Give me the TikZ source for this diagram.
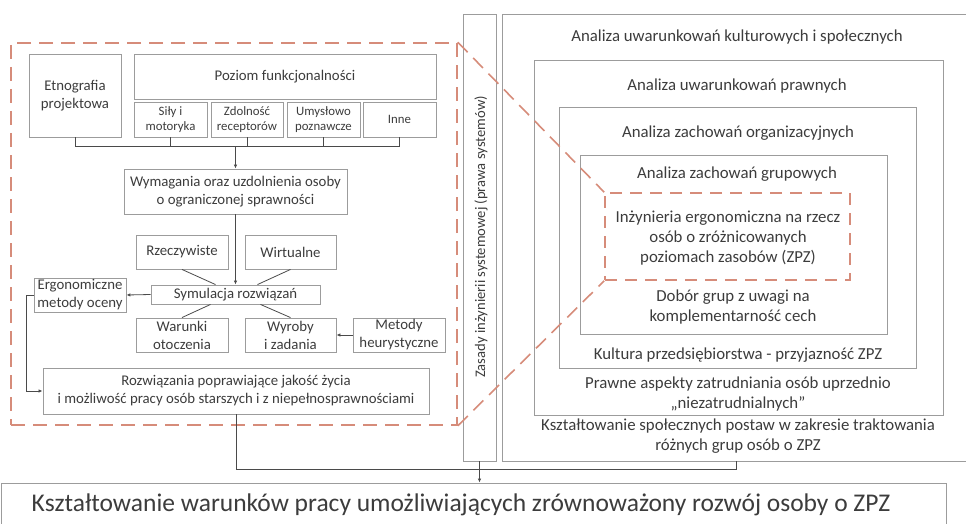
\documentclass[tikz,border=0pt]{standalone}
\usepackage{fontspec}
\setmainfont{Carlito}
\usetikzlibrary{arrows.meta}
\definecolor{txt}{HTML}{3C3C3C}
\definecolor{frame}{HTML}{9C9C9C}
\definecolor{conn}{HTML}{4A4A4A}
\definecolor{dash}{HTML}{D68C7A}
\tikzset{
  box/.style={draw=frame, line width=0.9pt, text=txt, align=center, inner sep=1pt, font=\fontsize{14.8}{18}\selectfont},
  subbox/.style={box, font=\fontsize{12.8}{15.5}\selectfont},
  frm/.style={draw=frame, line width=0.9pt, inner sep=0pt},
  rtxt/.style={text=txt, align=center, inner sep=0pt, font=\fontsize{16.8}{20.3}\selectfont},
  con/.style={draw=conn, line width=0.8pt},
  arr/.style={con, -{Latex[length=4pt,width=3.5pt]}},
  dsh/.style={draw=dash, line width=1.6pt, dash pattern=on 14pt off 8pt},
}
\begin{document}
\begin{tikzpicture}[x=1pt,y=-1pt]
\useasboundingbox (0,0) rectangle (966,524);
\clip (0,0) rectangle (966,524);
% left part
\node[box, minimum width=92, minimum height=83] (etno) at (75,95.5) {Etnografia\\projektowa};
\node[box, minimum width=302, minimum height=45] (poziom) at (285,76.5) {Poziom funkcjonalności};
\node[subbox, minimum width=73, minimum height=35] (sily) at (170.5,119.5) {Siły i\\motoryka};
\node[subbox, minimum width=72, minimum height=35] (zdol) at (247,119.5) {Zdolność\\receptorów};
\node[subbox, minimum width=73, minimum height=35] (umys) at (323.5,119.5) {Umysłowo\\poznawcze};
\node[subbox, minimum width=73, minimum height=35] (inne) at (399.5,119.5) {Inne};
\node[box, minimum width=223, minimum height=45] (wym) at (235.5,191.5) {Wymagania oraz uzdolnienia osoby\\o ograniczonej sprawności};
\node[box, minimum width=92, minimum height=34] (rzecz) at (182,252) {Rzeczywiste};
\node[box, minimum width=91, minimum height=34] (wirt) at (290.5,252) {Wirtualne};
\node[box, minimum width=169, minimum height=19] (sym) at (235.5,294.5) {Symulacja rozwiązań};
\node[box, minimum width=92, minimum height=34] (ergo) at (80,295) {Ergonomiczne\\metody oceny};
\node[box, minimum width=92, minimum height=34] (warunki) at (182,335) {Warunki\\otoczenia};
\node[box, minimum width=91, minimum height=34] (wyroby) at (290.5,335) {Wyroby\\i zadania};
\node[box, minimum width=92, minimum height=34] (metody) at (399,335) {Metody\\heurystyczne};
\node[box, minimum width=386, minimum height=46] (rozw) at (236,391) {Rozwiązania poprawiające jakość życia\\i możliwość pracy osób starszych i z niepełnosprawnościami};
% bracket
\coordinate (br) at (235.5,146);
\draw[con] (etno.south) -- (etno.south |- br) -- (inne.south |- br) -- (inne.south);
\draw[con] (sily.south) -- (sily.south |- br);
\draw[con] (zdol.south) -- (zdol.south |- br);
\draw[con] (umys.south) -- (umys.south |- br);
\draw[arr] (br) -- (wym.north);
\draw[arr] (wym.south) -- (sym.north);
\draw[con] (rzecz.south) -- ([xshift=-20pt]sym.north);
\draw[con] (wirt.south) -- ([xshift=22pt]sym.north);
\draw[con] ([xshift=-25pt]sym.south) -- (warunki.north);
\draw[con] ([xshift=25pt]sym.south) -- (wyroby.north);
\draw[arr] (sym.west) -- (ergo.east);
\draw[arr] (metody.west) -- (wyroby.east);
\draw[arr] (ergo.west) -- ++(-7,0) |- (rozw.west);
% big dashed frame
\node[dsh, minimum width=446, minimum height=382, inner sep=0pt] (bigdash) at (234,234) {};
% vertical box
\node[frm, minimum width=33, minimum height=447] (vbox) at (479.5,237.5) {};
\node[text=txt, rotate=90, inner sep=0pt, font=\fontsize{14.6}{16}\selectfont] (vtxt) at (481,237) {Zasady inżynierii systemowej (prawa systemów)};
% nested frames
\node[frm, minimum width=468, minimum height=447] (f1) at (736,237.5) {};
\node[frm, minimum width=409, minimum height=355] (f2) at (738.5,237.5) {};
\node[frm, minimum width=357, minimum height=261] (f3) at (737.5,237.5) {};
\node[frm, minimum width=307, minimum height=179] (f4) at (733.5,244.5) {};
\node[dsh, dash pattern=on 12pt off 8pt, minimum width=245, minimum height=87, inner sep=0pt] (sdash) at (727.5,236.5) {};
\draw[dsh] (bigdash.north east) -- (sdash.north west);
\draw[dsh] (bigdash.south east) -- (sdash.south west);
% right texts
\node[rtxt] (t1) at (737,37) {Analiza uwarunkowań kulturowych i społecznych};
\node[rtxt] (t2) at (737,86) {Analiza uwarunkowań prawnych};
\node[rtxt] (t3) at (738,133) {Analiza zachowań organizacyjnych};
\node[rtxt] (t4) at (737,174) {Analiza zachowań grupowych};
\node[rtxt] (t5) at (728,238) {Inżynieria ergonomiczna na rzecz\\osób o zróżnicowanych\\poziomach zasobów (ZPZ)};
\node[rtxt] (t6) at (733,307) {Dobór grup z uwagi na\\komplementarność cech};
\node[rtxt] (t7) at (738,355) {Kultura przedsiębiorstwa - przyjazność ZPZ};
\node[rtxt] (t8) at (738,394) {Prawne aspekty zatrudniania osób uprzednio\\„niezatrudnialnych”};
\node[rtxt] (t9) at (738,436) {Kształtowanie społecznych postaw w zakresie traktowania\\różnych grup osób o ZPZ};
% bottom
\node[frm, minimum width=945, minimum height=60] (bottom) at (473.5,513) {};
\node[text=txt, inner sep=0pt, font=\fontsize{25.5}{30}\selectfont] (btxt) at (461,505) {Kształtowanie warunków pracy umożliwiających zrównoważony rozwój osoby o ZPZ};
\coordinate (jn) at (736,469);
\draw[con] (rozw.south) |- (jn) -- (f1.south);
\draw[arr] (vbox.south) -- (vbox.south |- bottom.north);
\end{tikzpicture}
\end{document}
